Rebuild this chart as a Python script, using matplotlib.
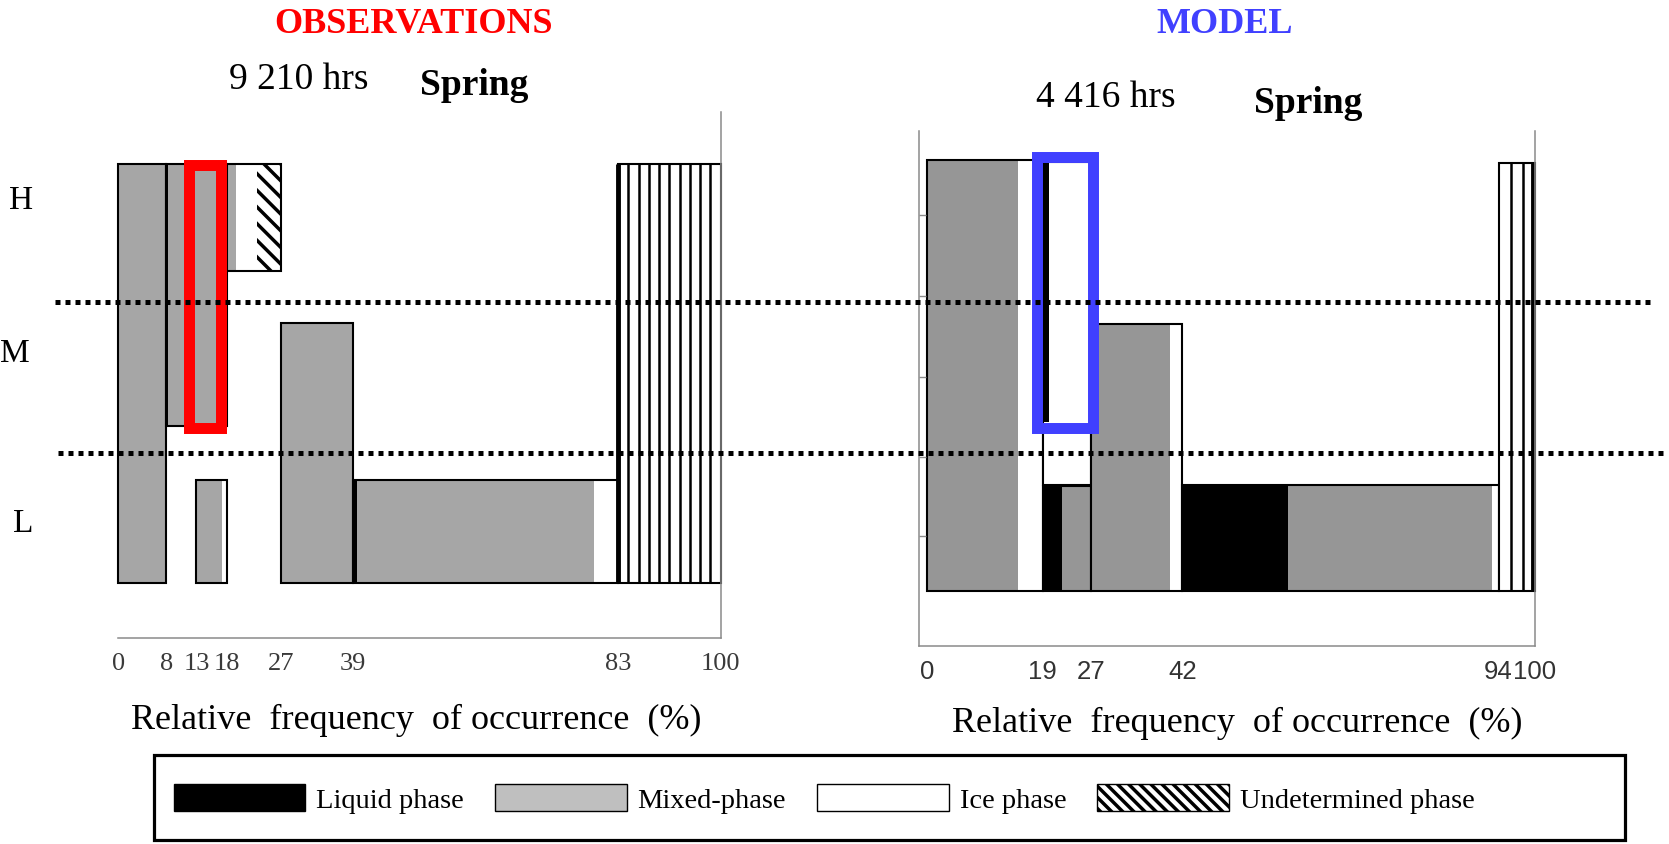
import numpy as np
import matplotlib.pyplot as plt
import matplotlib.transforms as mtransforms
from matplotlib.patches import Patch, Rectangle
from matplotlib.lines import Line2D

plt.rcParams['font.family'] = ['Liberation Serif', 'DejaVu Serif']
plt.rcParams['hatch.linewidth'] = 2.5

# ---- data ----
phase_names = ['Liquid phase', 'Mixed-phase', 'Ice phase', 'Undetermined phase']
layer_names = ['H', 'M', 'L']
layer_bounds = [0.670, 0.310]          # M/H and L/M limits (0 = base of L, 1 = top of H)

obs_title, mod_title = 'OBSERVATIONS', 'MODEL'
obs_hours, mod_hours = '9 210 hrs', '4 416 hrs'
season = 'Spring'
xlabel = 'Relative  frequency  of occurrence  (%)'

obs_ticks = [0, 8, 13, 18, 27, 39, 83, 100]
mod_ticks = [0, 19, 27, 42, 94, 100]
mod_yticks = [0.126, 0.311, 0.496, 0.684, 0.872]

# observations: one entry per cloud box
obs_x0 = [0, 8, 13, 18, 27, 39]
obs_x1 = [8, 18, 18, 27, 39, 83]
obs_y0 = [0, 0.376, 0, 0.744, 0, 0]
obs_y1 = [1, 1, 0.246, 1, 0.622, 0.246]
obs_liquid = [0, 0.3, 0, 0, 0, 0.7]
obs_mixed = [8, 9.7, 4.2, 1.5, 12, 39.3]
obs_ice = [0, 0, 0.8, 3.6, 0, 4.0]
obs_undet = [0, 0, 0, 3.9, 0, 0]
obs_clear = [83, 100]
obs_clear_top = 1.0
obs_highlight = [11.7, 17.0, 0.370, 0.997]

# model
mod_x0 = [0, 19, 19, 27, 42]
mod_x1 = [19, 27, 27, 42, 94]
mod_y0 = [0, 0.2445, 0, 0, 0]
mod_y1 = [1, 0.995, 0.243, 0.620, 0.2445]
mod_liquid = [0, 0, 3.2, 0, 17.3]
mod_mixed = [15, 0, 4.8, 12.9, 33.7]
mod_ice = [4, 8, 0, 2.1, 1.0]
mod_undet = [0, 0, 0, 0, 0]
mod_strip = [19, 20, 0.3925, 0.995]    # thin liquid slice in the ice column
mod_clear = [94, 100]
mod_clear_top = 0.993
mod_highlight = [18.1, 27.3, 0.377, 1.007]


def draw_box(ax, x0, x1, y0, y1, widths, gray):
    colors = ['black', gray, 'white', 'white']
    hatches = [None, None, None, '\\\\']
    left = x0
    for w, c, h in zip(widths, colors, hatches):
        if w > 0:
            ax.bar(left, y1 - y0, width=w, bottom=y0, align='edge', color=c,
                   hatch=h, edgecolor='black' if h else c, linewidth=0, clip_on=False)
        left += w
    ax.bar(x0, y1 - y0, width=x1 - x0, bottom=y0, align='edge', fill=False,
           edgecolor='black', linewidth=1.5, clip_on=False)


def draw_clear(ax, xs, top, n, thick_left):
    ax.bar(xs[0], top, width=xs[1] - xs[0], bottom=0, align='edge', color='white',
           edgecolor='black', linewidth=1.5, clip_on=False)
    ax.vlines(np.linspace(xs[0], xs[1], n + 1)[1:-1], 0, top, color='black', lw=1.8)
    ax.vlines(xs[0] if thick_left else xs[1] - 0.3, 0, top, color='black', lw=3.5,
              clip_on=False)


fig = plt.figure(figsize=(16.69, 8.45), dpi=100)
ax1 = fig.add_axes([0.0708, 0.2441, 0.3609, 0.6224])
ax2 = fig.add_axes([0.5504, 0.2341, 0.3693, 0.6097])
ax1.set_xlim(0, 100)
ax1.set_ylim(-0.1295, 1.1245)
ax2.set_xlim(-1.4, 100)
ax2.set_ylim(-0.1285, 1.0666)

obs_gray = '#a6a6a6'
mod_gray = '#969696'

for i in range(len(obs_x0)):
    draw_box(ax1, obs_x0[i], obs_x1[i], obs_y0[i], obs_y1[i],
             [obs_liquid[i], obs_mixed[i], obs_ice[i], obs_undet[i]], obs_gray)
draw_clear(ax1, obs_clear, obs_clear_top, 10, True)

for i in range(len(mod_x0)):
    draw_box(ax2, mod_x0[i], mod_x1[i], mod_y0[i], mod_y1[i],
             [mod_liquid[i], mod_mixed[i], mod_ice[i], mod_undet[i]], mod_gray)
ax2.bar(mod_strip[0], mod_strip[3] - mod_strip[2], width=mod_strip[1] - mod_strip[0],
        bottom=mod_strip[2], align='edge', color='black', linewidth=0)
draw_clear(ax2, mod_clear, mod_clear_top, 3, False)

# highlight frames
for ax, hl, col in [(ax1, obs_highlight, 'red'), (ax2, mod_highlight, '#4040ff')]:
    ax.add_patch(Rectangle((hl[0], hl[2]), hl[1] - hl[0], hl[3] - hl[2], fill=False,
                           edgecolor=col, linewidth=7.9, joinstyle='miter', clip_on=False))

# axes styling
for ax in (ax1, ax2):
    ax.spines['top'].set_visible(False)
    for s in ('left', 'right', 'bottom'):
        ax.spines[s].set_color('#8a8a8a')
        ax.spines[s].set_linewidth(1.1)
ax1.spines['left'].set_visible(False)

ax1.set_xticks(obs_ticks, labels=[str(t) for t in obs_ticks])
ax1.tick_params(axis='x', length=0, pad=10, labelsize=19, labelcolor='#3a3a3a')
ax1.set_yticks([])

ax2.set_xticks(mod_ticks, labels=[str(t) for t in mod_ticks], fontfamily='Liberation Sans')
ax2.tick_params(axis='x', length=0, pad=9, labelsize=18.5, labelcolor='#333333')
ax2.set_yticks(mod_yticks, labels=[])
ax2.tick_params(axis='y', direction='in', length=5, width=1, color='#8a8a8a')

ax1.set_xlabel(xlabel, fontsize=26)
ax1.xaxis.set_label_coords(0.4947, -0.1557)
ax2.set_xlabel(xlabel, fontsize=26)
ax2.xaxis.set_label_coords(0.5163, -0.1488)
for ax in (ax1, ax2):
    ax.xaxis.label.set_va('center')

# layer separators across the whole figure
trans = mtransforms.blended_transform_factory(fig.transFigure, ax1.transData)
for yb, (xs, xe) in zip(layer_bounds, [(0.033, 0.9916), (0.035, 0.999)]):
    fig.add_artist(Line2D([xs, xe], [yb, yb], transform=trans, color='black',
                          lw=3.6, ls=(0, (1, 1))))

for name, (xf, yv) in zip(layer_names, [(0.0128, 0.916), (0.0089, 0.551), (0.014, 0.145)]):
    fig.text(xf, yv, name, transform=trans, fontsize=24, ha='center', va='center')

# titles
fig.text(0.248, 0.9606, obs_title, color='red', fontsize=26, fontweight='bold',
         ha='center', va='baseline')
fig.text(0.734, 0.9606, mod_title, color='#4040ff', fontsize=26, fontweight='bold',
         ha='center', va='baseline')
fig.text(0.1792, 0.8943, obs_hours, fontsize=27, ha='center', va='baseline')
fig.text(0.2844, 0.8876, season, fontsize=27, fontweight='bold', ha='center', va='baseline')
fig.text(0.6626, 0.873, mod_hours, fontsize=27, ha='center', va='baseline')
fig.text(0.7838, 0.8666, season, fontsize=27, fontweight='bold', ha='center', va='baseline')

# legend
handles = [Patch(facecolor='black', edgecolor='black', lw=1),
           Patch(facecolor='#bfbfbf', edgecolor='black', lw=1),
           Patch(facecolor='white', edgecolor='black', lw=1),
           Patch(facecolor='white', edgecolor='black', lw=1, hatch='\\\\\\')]
fig.legend(handles, phase_names, loc='center left', bbox_to_anchor=(0.104, 0.054),
           ncol=4, frameon=False, fontsize=20.5, handlelength=4.63, handleheight=1.12,
           handletextpad=0.37, columnspacing=1.1, borderpad=0, borderaxespad=0)
fig.add_artist(Rectangle((0.0922, 0.0043), 0.8813, 0.1007, transform=fig.transFigure,
                         fill=False, edgecolor='black', linewidth=2.3))

fig.savefig('out.png', dpi=100)
